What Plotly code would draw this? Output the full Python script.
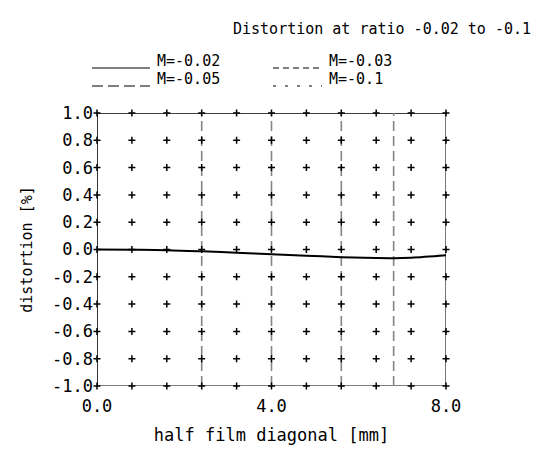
import plotly.graph_objects as go

# ---- data ----
field_x = [0.0, 0.8, 1.6, 2.4, 3.2, 4.0, 4.8, 5.6, 6.4, 6.8, 7.2, 8.0]
dist_m002 = [0.0, -0.002, -0.005, -0.013, -0.023, -0.034, -0.045, -0.056, -0.063, -0.064, -0.060, -0.042]

vline_x = [2.4, 4.0, 5.6, 6.8]
grid_x = [0.0, 0.8, 1.6, 2.4, 3.2, 4.0, 4.8, 5.6, 6.4, 7.2, 8.0]
grid_y = [-1.0, -0.8, -0.6, -0.4, -0.2, 0.0, 0.2, 0.4, 0.6, 0.8, 1.0]

x_tickvals = [0.0, 4.0, 8.0]
x_ticktext = ["0.0", "4.0", "8.0"]
y_tickvals = grid_y
y_ticktext = ["-1.0", "-0.8", "-0.6", "-0.4", "-0.2", "0.0", "0.2", "0.4", "0.6", "0.8", "1.0"]

legend_labels = ["M=-0.02", "M=-0.03", "M=-0.05", "M=-0.1"]
legend_dashes = ["solid", "6px,4px", "11px,5px", "3px,9px"]

title_text = "Distortion at ratio -0.02 to -0.1"
x_title = "half film diagonal [mm]"
y_title = "distortion [%]"

FONT = "DejaVu Sans Mono"
W, H = 543, 451
L, R, T, B = 97, 97, 113, 65

fig = go.Figure()

# vertical dashed lines
for vx in vline_x:
    fig.add_trace(go.Scatter(x=[vx, vx], y=[-1, 1], mode="lines",
                             line=dict(color="#858585", width=1.6, dash="10px,5px"),
                             showlegend=False, hoverinfo="skip"))

# grid of plus markers
gx = [x for x in grid_x for _ in grid_y]
gy = [y for _ in grid_x for y in grid_y]
fig.add_trace(go.Scatter(x=gx, y=gy, mode="markers",
                         marker=dict(symbol="cross-thin", size=5, line=dict(color="black", width=1.5)),
                         cliponaxis=False, showlegend=False, hoverinfo="skip"))

# curve
fig.add_trace(go.Scatter(x=field_x, y=dist_m002, mode="lines", line=dict(color="black", width=2, shape="spline"),
                         showlegend=False))

# frame
fig.add_shape(type="line", x0=0, x1=8, y0=1, y1=1, line=dict(color="black", width=1.6), layer="below")
fig.add_shape(type="line", x0=0, x1=0, y0=-1, y1=1, line=dict(color="black", width=1.6), layer="below")
fig.add_shape(type="line", x0=0, x1=8, y0=-1, y1=-1, line=dict(color="#555555", width=1.6), layer="below")
fig.add_shape(type="line", x0=8, x1=8, y0=-1, y1=1, line=dict(color="#555555", width=1.6), layer="below")

# manual legend
pw, ph = W - L - R, H - T - B
def px2paper(px, py):
    return (px - L) / pw, (H - B - py) / ph

leg_pos = [(92, 150, 68), (273, 322, 68), (92, 150, 86), (273, 322, 86)]
for (x0p, x1p, yp), lab, dsh in zip(leg_pos, legend_labels, legend_dashes):
    a0, b0 = px2paper(x0p, yp)
    a1, _ = px2paper(x1p, yp)
    fig.add_shape(type="line", xref="paper", yref="paper", x0=a0, x1=a1, y0=b0, y1=b0,
                  line=dict(color="#555555", width=1.5, dash=dsh))
    tx, ty = px2paper(x1p + 5, yp - 7)
    fig.add_annotation(xref="paper", yref="paper", x=tx, y=ty, text=lab, showarrow=False,
                       xanchor="left", yanchor="middle", font=dict(family=FONT, size=15, color="black"))

fig.update_layout(
    width=W, height=H,
    margin=dict(l=L, r=R, t=T, b=B, autoexpand=False),
    plot_bgcolor="white", paper_bgcolor="white",
    title=dict(text=title_text, x=531 / W, xanchor="right", y=1 - 29 / H, yanchor="middle",
               font=dict(family=FONT, size=15, color="black")),
    xaxis=dict(range=[0, 8], showgrid=False, zeroline=False, showline=False,
               tickvals=x_tickvals, ticktext=x_ticktext, ticks="", ticklabelstandoff=8,
               tickfont=dict(family=FONT, size=17, color="black"),
               title=dict(text=x_title, font=dict(family=FONT, size=17, color="black"), standoff=14)),
    yaxis=dict(range=[-1, 1], showgrid=False, zeroline=False, showline=False,
               tickvals=y_tickvals, ticktext=y_ticktext, ticks="", ticklabelstandoff=3,
               tickfont=dict(family=FONT, size=17, color="black"),
               title=dict(text=y_title, font=dict(family=FONT, size=15, color="black"), standoff=15)),
)

fig.write_html("out.html", post_script="document.body.style.margin='0';",
               config={"displayModeBar": False})
